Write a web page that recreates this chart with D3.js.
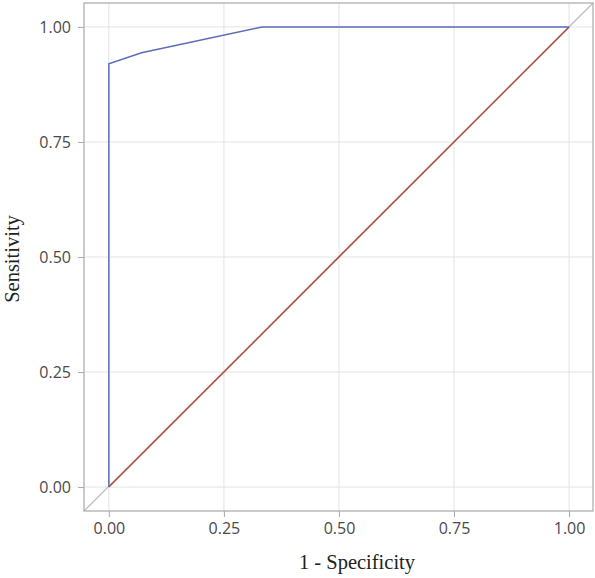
<!DOCTYPE html>
<html>
<head>
<meta charset="utf-8">
<script src="https://cdn.jsdelivr.net/npm/d3@7"></script>
<style>
  body { margin: 0; background: #fff; }
  .tick text { font-family: "Open Sans", "DejaVu Sans", sans-serif; font-size: 16px; fill: #4a4a4a; }
  .title { font-family: "Liberation Serif", serif; font-size: 20.5px; fill: #222; }
</style>
</head>
<body>
<div class="chart"></div>
<script>
// ROC curve points
var fpr = [0, 0, 0.071, 0.333, 1];
var tpr = [0, 0.92, 0.944, 1, 1];
var refLine = [0, 1];
var tickVals = [0, 0.25, 0.5, 0.75, 1];

var width = 595, height = 578;
var pLeft = 84, pRight = 593, pTop = 3, pBottom = 511;

var svg = d3.select(".chart")
    .append("svg")
    .attr("width", width)
    .attr("height", height);

var x = d3.scaleLinear().domain([-0.054, 1.052]).range([pLeft, pRight]);
var y = d3.scaleLinear().domain([-0.052, 1.052]).range([pBottom, pTop]);

// grid
svg.append("g").selectAll("line")
    .data(tickVals).enter().append("line")
    .attr("x1", d => x(d)).attr("x2", d => x(d))
    .attr("y1", pTop).attr("y2", pBottom)
    .attr("stroke", "#e3e3e3").attr("stroke-width", 1);
svg.append("g").selectAll("line")
    .data(tickVals).enter().append("line")
    .attr("y1", d => y(d)).attr("y2", d => y(d))
    .attr("x1", pLeft).attr("x2", pRight)
    .attr("stroke", "#e3e3e3").attr("stroke-width", 1);

// full-width diagonal reference
svg.append("line")
    .attr("x1", x(-0.054)).attr("y1", y(-0.052))
    .attr("x2", x(1.052)).attr("y2", y(1.052))
    .attr("stroke", "#bdbdbd").attr("stroke-width", 1.3);

// chance line
svg.append("line")
    .attr("x1", x(refLine[0])).attr("y1", y(refLine[0]))
    .attr("x2", x(refLine[1])).attr("y2", y(refLine[1]))
    .attr("stroke", "#b5483b").attr("stroke-width", 1.5);

var line = d3.line()
    .x(function(d){ return x(d[0]); })
    .y(function(d){ return y(d[1]); });

svg.append("path")
    .datum(d3.zip(fpr, tpr))
    .attr("fill", "none")
    .attr("stroke", "#5b6db8")
    .attr("stroke-width", 1.5)
    .attr("d", line);

// frame
svg.append("rect")
    .attr("x", pLeft).attr("y", pTop)
    .attr("width", pRight - pLeft).attr("height", pBottom - pTop)
    .attr("fill", "none").attr("stroke", "#a8a8a8").attr("stroke-width", 1.2);

var fmt = d3.format(".2f");

var xAxis = svg.append("g")
    .attr("transform", "translate(0," + pBottom + ")")
    .call(d3.axisBottom(x).tickValues(tickVals).tickFormat(fmt).tickSize(6).tickPadding(6));
var yAxis = svg.append("g")
    .attr("transform", "translate(" + pLeft + ",0)")
    .call(d3.axisLeft(y).tickValues(tickVals).tickFormat(fmt).tickSize(6).tickPadding(7));

[xAxis, yAxis].forEach(function(a){
  a.select(".domain").remove();
  a.selectAll(".tick line").attr("stroke", "#a8a8a8");
});

svg.append("text")
    .attr("class", "title")
    .attr("x", 357)
    .attr("y", 569)
    .attr("text-anchor", "middle")
    .text("1 - Specificity");

svg.append("text")
    .attr("class", "title")
    .attr("transform", "translate(19,259) rotate(-90)")
    .attr("text-anchor", "middle")
    .text("Sensitivity");
</script>
</body>
</html>
